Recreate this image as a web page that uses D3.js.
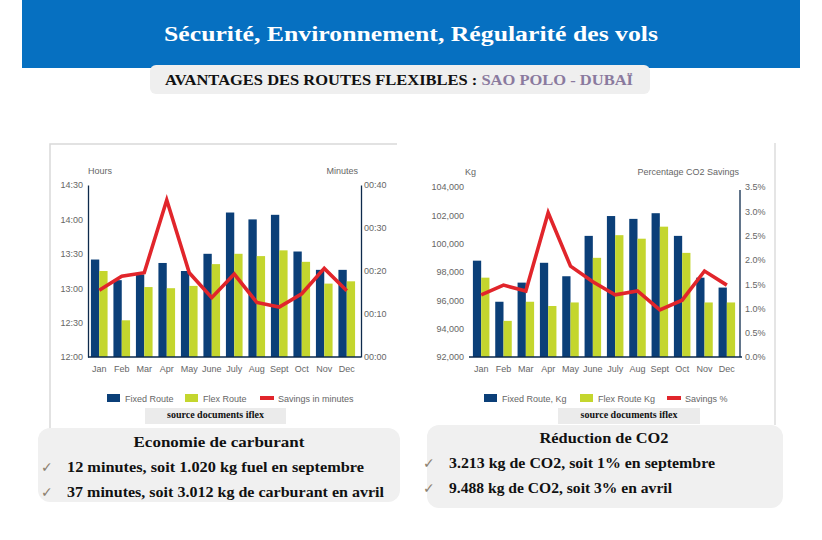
<!DOCTYPE html>
<html><head><meta charset="utf-8">
<script src="https://cdn.jsdelivr.net/npm/d3@7"></script>
<style>
html,body{margin:0;padding:0;background:#fff;}
svg{display:block;}
</style></head>
<body>
<svg id="c" width="822" height="540"></svg>
<script>
// ---------- data ----------
const months1 = ["Jan","Feb","Mar","Apr","May","June","July","Aug","Sept","Oct","Nov","Dec"];
const months2 = ["Jan","Feb","Mar","Apr","May","June","July","Aug","Sept","Oct","Nov","Dec"];
// flight time in minutes after midnight
const fixedRouteMin = [805, 787, 792, 802, 795, 810, 846, 840, 844, 812, 796, 796];
const flexRouteMin  = [795, 752, 781, 780, 782, 801, 810, 808, 813, 803, 784, 786];
const savingsMin    = [15.5, 18.8, 19.6, 36.5, 19.6, 13.8, 19.3, 12.7, 11.6, 14.7, 20.6, 15.4];
const hoursTicks    = ["12:00","12:30","13:00","13:30","14:00","14:30"];
const minutesTicks  = ["00:00","00:10","00:20","00:30","00:40"];

const fixedKg  = [98800, 95900, 97250, 98650, 97700, 100550, 101950, 101750, 102150, 100550, 97600, 96900];
const flexKg   = [97600, 94550, 95900, 95600, 95850, 99000, 100600, 100350, 101200, 99350, 95850, 95850];
const savingsPct = [1.28, 1.48, 1.36, 2.97, 1.87, 1.55, 1.28, 1.36, 0.97, 1.17, 1.77, 1.48];
const kgTicks  = [92000, 94000, 96000, 98000, 100000, 102000, 104000];
const pctTicks = [0, 0.5, 1.0, 1.5, 2.0, 2.5, 3.0, 3.5];

const legend1 = ["Fixed Route","Flex Route","Savings in minutes"];
const legend2 = ["Fixed Route, Kg","Flex Route Kg","Savings %"];

// ---------- style ----------
const C_FIXED = "#0b3f78", C_FLEX = "#c4d62e", C_RED = "#e1252b", C_AXIS = "#0d2a4c", C_TXT = "#666";
const svg = d3.select("#c");
const SANS = "'Liberation Sans', Arial, sans-serif";
const SERIF = "'Liberation Serif', 'DejaVu Serif', serif";

// header banner
svg.append("rect").attr("x",22).attr("y",0).attr("width",778).attr("height",68).attr("fill","#0670c1");
svg.append("text").attr("x",411).attr("y",41).attr("text-anchor","middle")
  .attr("font-family",SERIF).attr("font-weight","bold").attr("font-size",22).attr("fill","#fff")
  .attr("textLength",494).attr("lengthAdjust","spacingAndGlyphs")
  .text("Sécurité, Environnement, Régularité des vols");

// subtitle box
svg.append("rect").attr("x",150).attr("y",65).attr("width",500).attr("height",29).attr("rx",6).attr("fill","#efefef");
const st = svg.append("text").attr("x",165).attr("y",85).attr("font-family",SERIF).attr("font-weight","bold")
  .attr("font-size",15.5).attr("textLength",468).attr("lengthAdjust","spacingAndGlyphs");
st.append("tspan").attr("fill","#111").text("AVANTAGES DES ROUTES FLEXIBLES : ");
st.append("tspan").attr("fill","#8a7a9e").text("SAO POLO - DUBAÏ");

// panel borders
svg.append("path").attr("d","M50,430 L50,144 L397,144").attr("fill","none").attr("stroke","#d9d9d9").attr("stroke-width",1.5);
svg.append("line").attr("x1",775).attr("x2",775).attr("y1",143).attr("y2",425).attr("stroke","#dcdcdc").attr("stroke-width",1.5);

function fmtTime(m){const h=Math.floor(m/60), mm=m%60; return String(h).padStart(2,"0")+":"+String(mm).padStart(2,"0");}
function parseTime(s){const p=s.split(":"); return (+p[0])*60+(+p[1]);}

function drawChart(o){
  const g = svg.append("g");
  const x0 = d3.scaleBand().domain(o.cats).range(o.xr).paddingInner(0.26).paddingOuter(0.13);
  const x1 = d3.scaleBand().domain(["fixed","flex"]).range([0,x0.bandwidth()]);
  const yL = d3.scaleLinear().domain(o.yLdom).range([o.y0,o.y1]);
  const yR = d3.scaleLinear().domain(o.yRdom).range([o.y0,o.y1]);
  // bars
  const grp = g.selectAll("g.m").data(o.cats).join("g").attr("transform",d=>`translate(${x0(d)},0)`);
  grp.append("rect").attr("x",x1("fixed")).attr("width",x1.bandwidth())
    .attr("y",(d,i)=>yL(o.fixed[i])).attr("height",(d,i)=>o.y0-yL(o.fixed[i])).attr("fill",C_FIXED);
  grp.append("rect").attr("x",x1("flex")).attr("width",x1.bandwidth())
    .attr("y",(d,i)=>yL(o.flex[i])).attr("height",(d,i)=>o.y0-yL(o.flex[i])).attr("fill",C_FLEX);
  // line
  const line = d3.line().x((d,i)=>x0(o.cats[i])+x0.bandwidth()/2).y(d=>yR(d));
  g.append("path").attr("d",line(o.savings)).attr("fill","none").attr("stroke",C_RED).attr("stroke-width",3.6).attr("stroke-linejoin","miter");
  // axes
  const axL = d3.axisLeft(yL).tickValues(o.yLticks).tickFormat(o.fmtL).tickSize(0).tickPadding(o.padL);
  const axR = d3.axisRight(yR).tickValues(o.yRticks).tickFormat(o.fmtR).tickSize(0).tickPadding(o.padR);
  const axB = d3.axisBottom(x0).tickSize(0).tickPadding(9);
  const gl = g.append("g").attr("transform",`translate(${o.axL},0)`).call(axL);
  const gr = g.append("g").attr("transform",`translate(${o.axR},0)`).call(axR);
  const gb = g.append("g").attr("transform",`translate(0,${o.y0})`).call(axB);
  [gl,gr,gb].forEach(a=>{a.selectAll("text").attr("font-family",SANS).attr("font-size",9).attr("fill",C_TXT);});
  gl.select(".domain").attr("stroke",o.showL?C_AXIS:"none").attr("stroke-width",1.3);
  gr.select(".domain").attr("stroke",C_AXIS).attr("stroke-width",1.3);
  if(o.rAxTop) gr.select(".domain").attr("d",`M0,${o.rAxTop}V${o.y0}`);
  gb.select(".domain").attr("stroke",C_AXIS).attr("stroke-width",1.3).attr("d",`M${o.baseX[0]},0H${o.baseX[1]}`);
  // axis titles
  g.append("text").attr("x",o.tL[0]).attr("y",o.tL[1]).attr("font-family",SANS).attr("font-size",9).attr("fill",C_TXT).text(o.titleL);
  g.append("text").attr("x",o.tR[0]).attr("y",o.tR[1]).attr("text-anchor","end").attr("font-family",SANS).attr("font-size",9).attr("fill",C_TXT).text(o.titleR);
  // legend
  const lg = g.append("g");
  o.legend.forEach((t,i)=>{
    const lx = o.legX[i];
    if(i<2) lg.append("rect").attr("x",lx).attr("y",o.legY-4).attr("width",13).attr("height",8).attr("fill",i==0?C_FIXED:C_FLEX);
    else lg.append("rect").attr("x",lx).attr("y",o.legY-2).attr("width",14).attr("height",4).attr("fill",C_RED);
    lg.append("text").attr("x",lx+18).attr("y",o.legY+3.5).attr("font-family",SANS).attr("font-size",9).attr("fill",C_TXT).text(t);
  });
  // source box
  svg.append("rect").attr("x",o.src[0]).attr("y",408).attr("width",o.src[1]-o.src[0]).attr("height",16).attr("fill","#ebebeb");
  svg.append("text").attr("x",(o.src[0]+o.src[1])/2).attr("y",418).attr("text-anchor","middle")
    .attr("font-family",SERIF).attr("font-weight","bold").attr("font-size",10).attr("fill","#111").text("source documents iflex");
}

drawChart({
  cats: months1, xr:[88,358], y0:357, y1:185,
  yLdom:[parseTime(hoursTicks[0]), parseTime(hoursTicks[hoursTicks.length-1])],
  yRdom:[parseTime(minutesTicks[0]), parseTime(minutesTicks[minutesTicks.length-1])],
  yLticks: hoursTicks.map(parseTime), yRticks: minutesTicks.map(parseTime),
  fmtL: fmtTime, fmtR: fmtTime, padL:5, padR:3,
  fixed: fixedRouteMin, flex: flexRouteMin, savings: savingsMin,
  axL:88, axR:361, showL:true, baseX:[88,361],
  titleL:"Hours", tL:[88,174], titleR:"Minutes", tR:[358,174],
  legend: legend1, legX:[107,185,260], legY:398, src:[145,286]
});

drawChart({
  cats: months2, xr:[470,738], y0:357, y1:187,
  yLdom:[kgTicks[0], kgTicks[kgTicks.length-1]],
  yRdom:[pctTicks[0], pctTicks[pctTicks.length-1]],
  yLticks: kgTicks, yRticks: pctTicks,
  fmtL: d3.format(",") , fmtR: d=>d.toFixed(1)+"%", padL:5, padR:5,
  fixed: fixedKg, flex: flexKg, savings: savingsPct,
  axL:469, axR:740, showL:false, baseX:[469,742], rAxTop:190,
  titleL:"Kg", tL:[465,175], titleR:"Percentage CO2 Savings", tR:[739,175],
  legend: legend2, legX:[484,580,667], legY:398, src:[558,700]
});

// bottom boxes
function box(x,y,w,h,title,ty,titleW,lines,lineW,lx,ly0,dy,tx){
  svg.append("rect").attr("x",x).attr("y",y).attr("width",w).attr("height",h).attr("rx",12).attr("fill","#f0f0f0");
  svg.append("text").attr("x",tx).attr("y",ty).attr("text-anchor","middle").attr("font-family",SERIF)
    .attr("font-weight","bold").attr("font-size",15).attr("fill","#111")
    .attr("textLength",titleW).attr("lengthAdjust","spacingAndGlyphs").text(title);
  lines.forEach((t,i)=>{
    svg.append("text").attr("x",lx-26).attr("y",ly0+i*dy).attr("font-family","'DejaVu Sans', sans-serif")
      .attr("font-size",14).attr("fill","#8c7f6e").text("✓");
    svg.append("text").attr("x",lx).attr("y",ly0+i*dy).attr("font-family",SERIF).attr("font-weight","bold")
      .attr("font-size",15).attr("fill","#111")
      .attr("textLength",lineW[i]).attr("lengthAdjust","spacingAndGlyphs").text(t);
  });
}
const box1Title = "Economie de carburant";
const box1Lines = ["12 minutes, soit 1.020 kg fuel en septembre","37 minutes, soit 3.012 kg de carburant en avril"];
const box2Title = "Réduction de CO2";
const box2Lines = ["3.213 kg de CO2, soit 1% en septembre","9.488 kg de CO2, soit 3% en avril"];
box(38,428,362,74,box1Title,447,171,box1Lines,[297,317],67,472,25,219);
box(427,425,356,83,box2Title,443,129,box2Lines,[266,223],449,468,25,604);
</script>
</body></html>
